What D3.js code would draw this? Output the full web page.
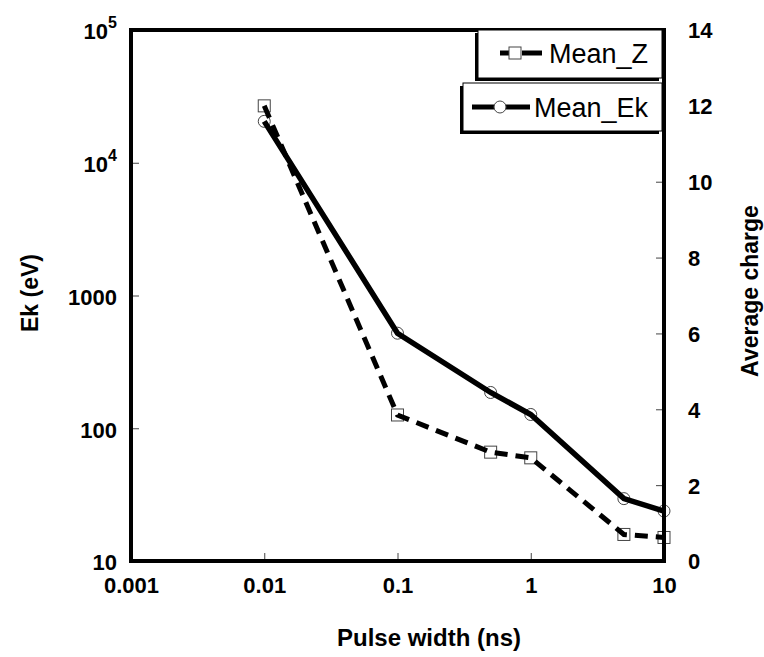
<html>
<head>
    <script src="https://d3js.org/d3.v7.min.js"></script>
    <style>
        body { margin: 0; background: #fff; }
        text { font-family: "Liberation Sans", Arial, sans-serif; }
    </style>
</head>
<body>
    <svg id="chart" width="764" height="657"></svg>
    <script>
        // data
        var pulseWidth = [0.01, 0.1, 0.5, 1, 5, 10];
        var meanEk = [20500, 520, 186, 127, 29.5, 23.8];
        var meanZ = [12.0, 3.85, 2.87, 2.72, 0.7, 0.62];
        var xTicks = [0.001, 0.01, 0.1, 1, 10];
        var ekTicks = [10, 100, 1000, 10000, 100000];
        var zTicks = [0, 2, 4, 6, 8, 10, 12, 14];

        var svg = d3.select("#chart"),
            margin = { top: 30, right: 100, bottom: 96, left: 131 },
            width = 664 - margin.left,
            height = 561 - margin.top;

        var x = d3.scaleLog().domain([0.001, 10]).range([0, width]),
            yEk = d3.scaleLog().domain([10, 100000]).range([height, 0]),
            yZ = d3.scaleLinear().domain([0, 14]).range([height, 0]);

        var g = svg.append("g")
            .attr("transform", "translate(" + margin.left + "," + margin.top + ")");

        // left axis (log), ticks pointing inward
        var leftAxis = g.append("g")
            .call(d3.axisLeft(yEk).tickValues(ekTicks).tickSizeInner(-8).tickSizeOuter(0).tickPadding(14)
                .tickFormat(function (d) { return d >= 10000 ? "" : d3.format("d")(d); }));
        leftAxis.selectAll("text").each(function (d) {
            if (d >= 10000) {
                var t = d3.select(this);
                t.append("tspan").text("10");
                t.append("tspan").attr("dy", -11).attr("font-size", 16).text(Math.round(Math.log10(d)));
            }
        });

        // right axis (linear)
        var rightAxis = g.append("g")
            .attr("transform", "translate(" + width + ",0)")
            .call(d3.axisRight(yZ).tickValues(zTicks).tickSizeInner(-8).tickSizeOuter(0).tickPadding(24));

        // bottom axis
        var bottomAxis = g.append("g")
            .attr("transform", "translate(0," + height + ")")
            .call(d3.axisBottom(x).tickValues(xTicks).tickSizeInner(-8).tickSizeOuter(0).tickPadding(16)
                .tickFormat(function (d) { return String(d); }));

        [leftAxis, rightAxis, bottomAxis].forEach(function (a) {
            a.select(".domain").remove();
            a.selectAll("line").attr("stroke", "#444").attr("stroke-width", 1);
            a.selectAll("text").attr("fill", "#000").attr("font-size", 22).attr("font-weight", "bold")
                .style("font-family", "'Liberation Sans', Arial, sans-serif");
        });
        leftAxis.selectAll("text").attr("dy", "0.4em");
        rightAxis.selectAll("text").attr("dy", "0.36em");

        // series
        var lineEk = d3.line().x(function (d, i) { return x(pulseWidth[i]); }).y(function (d) { return yEk(d); });
        var lineZ = d3.line().x(function (d, i) { return x(pulseWidth[i]); }).y(function (d) { return yZ(d); });

        g.selectAll(".sq")
            .data(meanZ)
            .enter().append("rect")
            .attr("class", "sq")
            .attr("x", function (d, i) { return x(pulseWidth[i]) - 6; })
            .attr("y", function (d) { return yZ(d) - 6; })
            .attr("width", 12).attr("height", 12)
            .attr("fill", "none").attr("stroke", "#444").attr("stroke-width", 1);

        g.selectAll(".dot")
            .data(meanEk)
            .enter().append("circle")
            .attr("class", "dot")
            .attr("cx", function (d, i) { return x(pulseWidth[i]); })
            .attr("cy", function (d) { return yEk(d); })
            .attr("r", 6)
            .attr("fill", "none").attr("stroke", "#444").attr("stroke-width", 1);

        g.append("path")
            .datum(meanZ)
            .attr("d", lineZ)
            .attr("fill", "none").attr("stroke", "#000").attr("stroke-width", 5)
            .attr("stroke-dasharray", "13,8");

        g.append("path")
            .datum(meanEk)
            .attr("d", lineEk)
            .attr("fill", "none").attr("stroke", "#000").attr("stroke-width", 5.5);

        // frame
        g.append("rect")
            .attr("width", width).attr("height", height)
            .attr("fill", "none").attr("stroke", "#000").attr("stroke-width", 4);

        // legend boxes (with shadow to the lower left)
        function legendBox(x0, y0, w, h) {
            svg.append("rect").attr("x", x0 - 3).attr("y", y0 + 3).attr("width", w).attr("height", h).attr("fill", "#000");
            svg.append("rect").attr("x", x0).attr("y", y0).attr("width", w).attr("height", h)
                .attr("fill", "#fff").attr("stroke", "#000").attr("stroke-width", 1);
        }
        legendBox(478, 30, 184, 48);
        svg.append("line").attr("x1", 500).attr("x2", 542).attr("y1", 53).attr("y2", 53)
            .attr("stroke", "#000").attr("stroke-width", 5).attr("stroke-dasharray", "9,13,20");
        svg.append("rect").attr("x", 509).attr("y", 47).attr("width", 12).attr("height", 12)
            .attr("fill", "none").attr("stroke", "#444").attr("stroke-width", 1);
        svg.append("text").attr("x", 549).attr("y", 63).attr("font-size", 27).text("Mean_Z");

        legendBox(463, 83, 199, 48);
        svg.append("line").attr("x1", 472).attr("x2", 530).attr("y1", 107).attr("y2", 107)
            .attr("stroke", "#000").attr("stroke-width", 5);
        svg.append("circle").attr("cx", 500).attr("cy", 107).attr("r", 6)
            .attr("fill", "#fff").attr("stroke", "#444").attr("stroke-width", 1);
        svg.append("text").attr("x", 534).attr("y", 117).attr("font-size", 27).text("Mean_Ek");

        // axis titles
        svg.append("text")
            .attr("transform", "translate(" + 429 + "," + 646 + ")")
            .attr("text-anchor", "middle").attr("font-size", 24).attr("font-weight", "bold")
            .text("Pulse width (ns)");

        svg.append("text")
            .attr("transform", "translate(38," + 293 + ") rotate(-90)")
            .attr("text-anchor", "middle").attr("font-size", 23).attr("font-weight", "bold")
            .text("Ek (eV)");

        svg.append("text")
            .attr("transform", "translate(758," + 291 + ") rotate(-90)")
            .attr("text-anchor", "middle").attr("font-size", 23).attr("font-weight", "bold")
            .text("Average charge");
    </script>
</body>
</html>
